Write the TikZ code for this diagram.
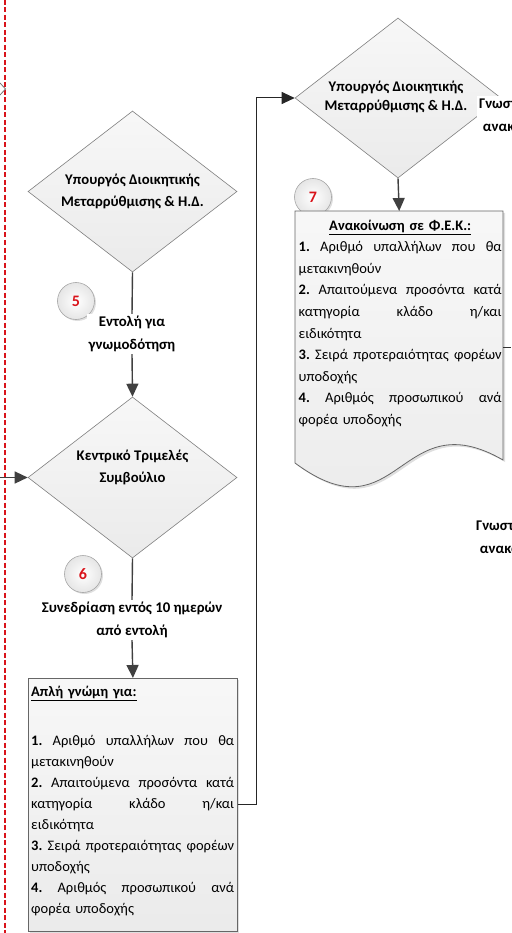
\documentclass[tikz,border=0pt]{standalone}
\usepackage{fontspec}
\setmainfont{Carlito}
\usetikzlibrary{shapes.geometric,arrows.meta,shadows}
\definecolor{lineg}{HTML}{404040}
\definecolor{bord}{HTML}{7F7F7F}
\definecolor{redd}{HTML}{D9141B}
\newcommand{\jl}[1]{{\frenchspacing\spaceskip=0pt\xspaceskip=0pt\makebox[203pt][s]{#1}}}
\begin{document}
\begin{tikzpicture}[x=1pt,y=-1pt,
  dia/.style={diamond, draw=bord, line width=0.6pt, top color=black!3, bottom color=black!8,
    inner sep=0pt, minimum width=209pt, minimum height=161pt, aspect=1.3, align=center,
    font=\fontsize{14.7}{22}\selectfont\bfseries},
  diatext/.style={align=center, inner sep=0pt, font=\fontsize{14.7}{22}\selectfont\bfseries},
  conn/.style={draw=lineg, line width=1.4pt},
  arr/.style={-{Triangle[length=13pt,width=12pt]}},
  num/.style={circle, draw=black!35, line width=0.6pt, inner color=white, outer color=black!10,
    minimum size=37pt, inner sep=0pt, font=\fontsize{16}{16}\selectfont\bfseries, text=redd,
    drop shadow={opacity=0.25, shadow xshift=1.5pt, shadow yshift=-1.5pt}},
  lbl/.style={fill=white, align=center, inner sep=2pt, font=\fontsize{14.8}{23}\selectfont\bfseries},
  txt/.style={font=\fontsize{14.5}{21}\selectfont, text width=203pt, align=left, inner sep=0pt},
  boxfill/.style={draw=black!60, line width=0.8pt, top color=black!3, bottom color=black!8,
    drop shadow={opacity=0.25, shadow xshift=2pt, shadow yshift=-2pt}}
]
\path[use as bounding box] (0,0) rectangle (511,933);
\clip (0,0) rectangle (511,933);

% red dashed boundary
\draw[redd, line width=2.6pt, dash pattern=on 5pt off 2.5pt] (5,0) -- (5,933);
% partial arrow tip at top left
\draw[black!55, line width=0.8pt] (0,83) -- (5.5,89) -- (0,95);

% diamonds
\node[dia] (d1) at (132.5,191.5) {Υπουργός Διοικητικής\\Μεταρρύθμισης \& Η.Δ.};
\node[dia] (d2) at (132.5,477.5) {};
\node[diatext] (d2t) at (132.5,467) {Κεντρικό Τριμελές\\Συμβούλιο};
\node[dia, minimum width=206pt, minimum height=160pt] (d3) at (398,98) {};
\node[diatext, font=\fontsize{14.7}{19.5}\selectfont\bfseries] (d3t) at (396,97) {Υπουργός Διοικητικής\\Μεταρρύθμισης \& Η.Δ.};

% step circles
\node[num] (c5) at (76,301) {5};
\node[num] (c6) at (83,574) {6};
\node[num] (c7) at (313,197) {7};

% labels on connectors
\node[lbl] (l5) at (132,334) {Εντολή για\\γνωμοδότηση};
\node[lbl] (l6) at (132,620) {Συνεδρίαση εντός 10 ημερών\\από εντολή};

% box 1
\node[boxfill, minimum width=209pt, minimum height=253pt, inner sep=0pt, anchor=north west] (b1) at (28,678) {};
\node[txt, anchor=north west] (t1) at (31,685.5) {%
\underline{\textbf{Απλή γνώμη για:}}\\[28pt]
\jl{\textbf{1.} Αριθμό υπαλλήλων που θα}\\
μετακινηθούν\\
\jl{\textbf{2.} Απαιτούμενα προσόντα κατά}\\
\jl{κατηγορία κλάδο η/και}\\
ειδικότητα\\
\jl{\textbf{3.} Σειρά προτεραιότητας φορέων}\\
υποδοχής\\
\jl{\textbf{4.} Αριθμός προσωπικού ανά}\\
φορέα υποδοχής};

% document 7
\path[boxfill] (295,211) -- (503,211) -- (503,460)
   .. controls (399,400) and (399,540) .. (295,463) -- cycle;
\node[minimum width=208pt, minimum height=249pt, inner sep=0pt, anchor=north west] (doc7) at (295,211) {};
\node[txt, anchor=north west, font=\fontsize{14.5}{21.6}\selectfont] (t7) at (298.5,219.5) {%
\makebox[203pt]{\underline{\textbf{Ανακοίνωση σε Φ.Ε.Κ.:}}}\\
\jl{\textbf{1.} Αριθμό υπαλλήλων που θα}\\
μετακινηθούν\\
\jl{\textbf{2.} Απαιτούμενα προσόντα κατά}\\
\jl{κατηγορία κλάδο η/και}\\
ειδικότητα\\
\jl{\textbf{3.} Σειρά προτεραιότητας φορέων}\\
υποδοχής\\
\jl{\textbf{4.} Αριθμός προσωπικού ανά}\\
φορέα υποδοχής};

% right-side labels (cut by the page edge, as in the reference)
\node[lbl, anchor=north west] (g1) at (477,96) {Γνωστοποίηση\\ανακοίνωσης};
\node[lbl, anchor=north west] (g2) at (474,518) {Γνωστοποίηση\\ανακοίνωσης};

% connectors
\draw[conn] (d1.south) -- (l5.north);
\draw[conn,arr] (l5.south) -- (d2.north);
\draw[conn] (d2.south) -- (l6.north);
\draw[conn,arr] (l6.south) -- (b1.north);
\coordinate (w2) at (0,477.5);
\draw[conn,arr] (w2) -- (d2.west);
\draw[line width=1pt, black!85, arr] (b1.east) -- ++(19,0) |- (d3.west);
\draw[conn,arr] (d3.south) -- (doc7.north);
\coordinate (r7) at (511,347);
\draw[line width=1pt, black!80] (doc7.east |- r7) -- (r7);
\end{tikzpicture}
\end{document}
